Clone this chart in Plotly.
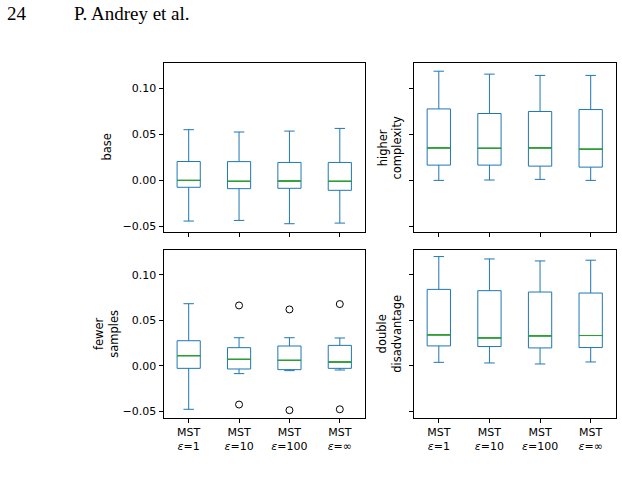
import plotly.graph_objects as go

# ---- data ----
positions = [1, 2, 3, 4]
tick_labels = ["MST<br><i>ε</i>=1", "MST<br><i>ε</i>=10", "MST<br><i>ε</i>=100", "MST<br><i>ε</i>=∞"]
panel_titles = ["base", "higher<br>complexity", "fewer<br>samples", "double<br>disadvantage"]

base_lo = [-0.0446, -0.0439, -0.0475, -0.0468]
base_q1 = [-0.0079, -0.0094, -0.0090, -0.0112]
base_med = [-0.0004, -0.0014, -0.0011, -0.0014]
base_q3 = [0.0201, 0.0200, 0.0191, 0.0191]
base_hi = [0.0547, 0.0522, 0.0532, 0.0561]

hc_lo = [-0.0004, 0.0000, 0.0007, -0.0004]
hc_q1 = [0.0162, 0.0162, 0.0151, 0.0140]
hc_med = [0.0349, 0.0345, 0.0349, 0.0335]
hc_q3 = [0.0773, 0.0723, 0.0745, 0.0766]
hc_hi = [0.1183, 0.1151, 0.1137, 0.1137]

fs_lo = [-0.0475, -0.0084, -0.0051, -0.0044]
fs_q1 = [-0.0026, -0.0033, -0.0040, -0.0026]
fs_med = [0.0113, 0.0073, 0.0062, 0.0044]
fs_q3 = [0.0277, 0.0201, 0.0219, 0.0226]
fs_hi = [0.0683, 0.0310, 0.0310, 0.0307]
fs_out_x = [2, 2, 3, 3, 4, 4]
fs_out_y = [0.0664, -0.0423, 0.0620, -0.0485, 0.0679, -0.0475]

dd_lo = [0.0040, 0.0033, 0.0022, 0.0044]
dd_q1 = [0.0220, 0.0213, 0.0198, 0.0202]
dd_med = [0.0341, 0.0308, 0.0330, 0.0334]
dd_q3 = [0.0840, 0.0826, 0.0811, 0.0800]
dd_hi = [0.1200, 0.1174, 0.1152, 0.1160]

panels = [
    (base_lo, base_q1, base_med, base_q3, base_hi, [], []),
    (hc_lo, hc_q1, hc_med, hc_q3, hc_hi, [], []),
    (fs_lo, fs_q1, fs_med, fs_q3, fs_hi, fs_out_x, fs_out_y),
    (dd_lo, dd_q1, dd_med, dd_q3, dd_hi, [], []),
]

y_ticks = [-0.05, 0.00, 0.05, 0.10]
y_range = [-0.0565, 0.1272]

BLUE = "#1f77b4"
GREEN = "#2ca02c"

W, H = 622, 488
xdoms = [[163.5 / W, 365 / W], [413.5 / W, 616 / W]]
ydoms = [[1 - 232 / H, 1 - 63 / H], [1 - 417.5 / H, 1 - 250 / H]]

fig = go.Figure()
axis_font = dict(family="DejaVu Sans", size=11, color="black")

for i, (lo, q1, med, q3, hi, ox, oy) in enumerate(panels):
    row, col = divmod(i, 2)
    n = i + 1
    xa = "x" if n == 1 else f"x{n}"
    ya = "y" if n == 1 else f"y{n}"
    fig.add_trace(go.Box(
        x=positions, q1=q1, median=med, q3=q3, lowerfence=lo, upperfence=hi,
        width=0.46, whiskerwidth=0.45, boxpoints=False,
        line=dict(color=BLUE, width=1), fillcolor="rgba(0,0,0,0)",
        xaxis=xa, yaxis=ya, showlegend=False, hoverinfo="skip"))
    fig.add_trace(go.Box(
        x=positions, q1=med, median=med, q3=med, lowerfence=med, upperfence=med,
        width=0.46, whiskerwidth=0, boxpoints=False,
        line=dict(color=GREEN, width=1), fillcolor="rgba(0,0,0,0)",
        xaxis=xa, yaxis=ya, showlegend=False, hoverinfo="skip"))
    if ox:
        fig.add_trace(go.Scatter(
            x=ox, y=oy, mode="markers",
            marker=dict(symbol="circle-open", size=7, color="black", line=dict(width=1)),
            xaxis=xa, yaxis=ya, showlegend=False, hoverinfo="skip"))

    layx = "xaxis" if n == 1 else f"xaxis{n}"
    layy = "yaxis" if n == 1 else f"yaxis{n}"
    fig.layout[layx] = dict(
        domain=xdoms[col], anchor=ya, range=[0.5, 4.5],
        tickmode="array", tickvals=positions,
        ticktext=tick_labels if row == 1 else [""] * 4,
        showticklabels=(row == 1),
        ticks="outside", ticklen=4, tickcolor="black", tickwidth=1,
        showline=True, linecolor="black", linewidth=1, mirror=True,
        showgrid=False, zeroline=False, tickfont=axis_font)
    fig.layout[layy] = dict(
        domain=ydoms[row], anchor=xa, range=y_range,
        tickmode="array", tickvals=y_ticks,
        ticktext=["−0.05", "0.00", "0.05", "0.10"],
        showticklabels=(col == 0),
        ticks="outside", ticklen=4, tickcolor="black", tickwidth=1,
        showline=True, linecolor="black", linewidth=1, mirror=True,
        showgrid=False, zeroline=False, tickfont=axis_font)

    # y titles
    xpos = (107 / W) if col == 0 else (390 / W)
    ycen = (ydoms[row][0] + ydoms[row][1]) / 2
    fig.add_annotation(text=panel_titles[i], x=xpos, y=ycen, xref="paper", yref="paper",
                       textangle=-90, showarrow=False, xanchor="center", yanchor="middle",
                       font=dict(family="DejaVu Sans", size=11.5, color="black"))

fig.add_annotation(text="24", x=5 / W, y=1 - 13 / H, xref="paper", yref="paper",
                   showarrow=False, xanchor="left", yanchor="middle",
                   font=dict(family="Liberation Serif", size=19, color="black"))
fig.add_annotation(text="P. Andrey et al.", x=72 / W, y=1 - 13 / H, xref="paper", yref="paper",
                   showarrow=False, xanchor="left", yanchor="middle",
                   font=dict(family="Liberation Serif", size=19, color="black"))

fig.update_layout(width=W, height=H, margin=dict(l=0, r=0, t=0, b=0),
                  paper_bgcolor="white", plot_bgcolor="white", boxmode="overlay")

fig.write_html("out.html")
